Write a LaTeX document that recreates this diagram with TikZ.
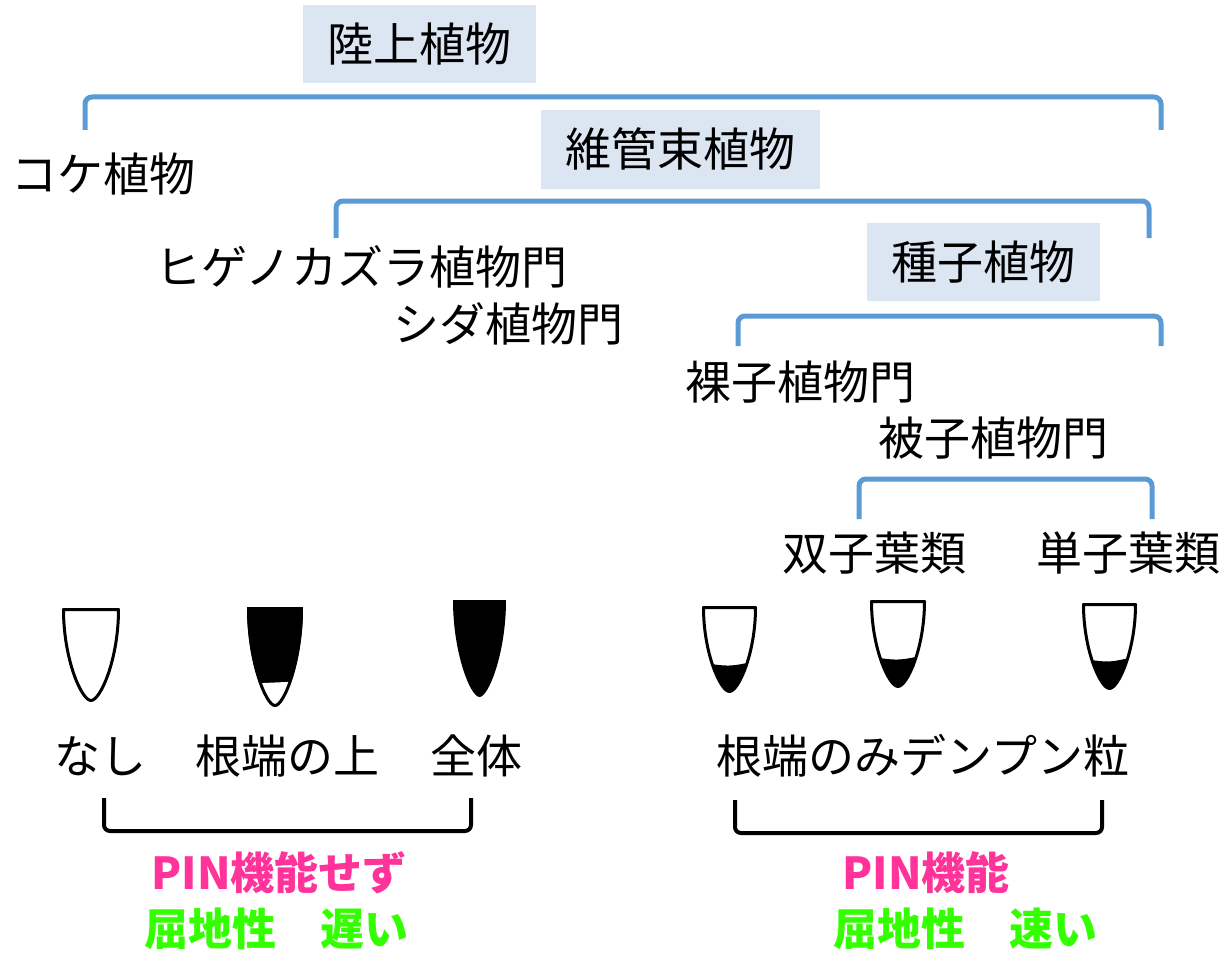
\documentclass[tikz,border=0pt]{standalone}
\usepackage{fontspec}
\setmainfont{Noto Sans CJK JP}
\definecolor{boxblue}{HTML}{DCE6F2}
\definecolor{brblue}{HTML}{5B9BD5}
\definecolor{pinkc}{HTML}{FF3399}
\definecolor{greenc}{HTML}{33FF00}
% outline of a root tip: left x, right x, top y, bottom y
\newcommand\tippath[4]{(#1,#3) -- (#2,#3)
  .. controls (#2,{#3+0.55*(#4-#3)}) and ({(#1+#2)/2+0.17*(#2-#1)},#4) .. ({(#1+#2)/2},#4)
  .. controls ({(#1+#2)/2-0.17*(#2-#1)},#4) and (#1,{#3+0.55*(#4-#3)}) .. cycle}
% root tip with a starch-filled cap below a slightly sagging line
\newcommand\captip[7]{%
  \begin{scope}
    \clip \tippath{#1}{#2}{#3}{#4};
    \fill ({#1-5},#5) .. controls ({(#1+#2)/2},{#6+2}) .. ({#2+5},#7) -- ({#2+5},{#4+5}) -- ({#1-5},{#4+5}) -- cycle;
  \end{scope}
  \draw[tipline] \tippath{#1}{#2}{#3}{#4};}
\begin{document}
\begin{tikzpicture}[x=1pt,y=-1pt,
  lbl/.style={inner sep=0pt, text height=40.5pt, text depth=5.5pt,
    font=\fontsize{46}{50}\selectfont},
  grp/.style={lbl, fill=boxblue, inner xsep=24.5pt, inner ysep=16pt},
  pin/.style={inner sep=0pt, text height=38.7pt, text depth=5.3pt,
    font=\fontsize{44}{48}\selectfont\bfseries, text=pinkc},
  geo/.style={pin, text=greenc},
  bbr/.style={draw=brblue, line width=5pt, rounded corners=7pt},
  kbr/.style={draw=black, line width=4pt, rounded corners=6pt},
  tipline/.style={draw=black, line width=3pt, line join=round}]
\useasboundingbox (0,0) rectangle (1229,955);

% group headings
\node[grp] (land) at (419.5,44) {陸上植物};
\node[grp] (vasc) at (680.5,149.5) {維管束植物};
\node[grp] (seed) at (983.5,262) {種子植物};

% taxa
\node[lbl] (moss) at (103.5,174) {コケ植物};
\node[lbl] (lyco) at (361.5,267) {ヒゲノカズラ植物門};
\node[lbl] (fern) at (508,324) {シダ植物門};
\node[lbl] (gymn) at (800,382) {裸子植物門};
\node[lbl] (angi) at (993,438) {被子植物門};
\node[lbl] (dico) at (874,553) {双子葉類};
\node[lbl] (mono) at (1128,553) {単子葉類};

% blue brackets of the classification
\draw[bbr] (85,130) -- (85,97) -- (1161,97) -- (1161,130);
\draw[bbr] (336,238) -- (336,201) -- (1149,201) -- (1149,238);
\draw[bbr] (738,346) -- (738,316) -- (1161,316) -- (1161,346);
\draw[bbr] (859,519) -- (859,479) -- (1152,479) -- (1152,519);

% root tips without PIN function
\draw[tipline] \tippath{63.5}{118.5}{609.5}{700.5};
\fill \tippath{247}{303}{607}{707};
\begin{scope}
  \clip \tippath{247}{303}{607}{707};
  \fill[white] (240,684) .. controls (275,682) .. (310,681) -- (310,715) -- (240,715) -- cycle;
\end{scope}
\draw[tipline] \tippath{248.5}{301.5}{608.5}{705.5};
\fill \tippath{453}{506}{600}{697};

% root tips with starch only at the tip
\captip{703.5}{755.5}{607.5}{691.5}{662}{665}{660}
\captip{871.5}{924.5}{601.5}{686.5}{656}{659}{654}
\captip{1083.5}{1135.5}{604.5}{688.5}{658}{661}{655}

% tip labels
\node[lbl] (none) at (100,756) {なし};
\node[lbl] (upper) at (287,756) {根端の上};
\node[lbl] (whole) at (476,756) {全体};
\node[lbl] (apex) at (923,756) {根端のみデンプン粒};

% black brackets
\draw[kbr] (104,798) -- (104,831) -- (471,831) -- (471,798);
\draw[kbr] (735,800) -- (735,833) -- (1102,833) -- (1102,800);

% conclusions
\node[pin] (nopin) at (279,873) {PIN機能せず};
\node[geo] (slow) at (276,929) {屈地性　遅い};
\node[pin] (haspin) at (926,873) {PIN機能};
\node[geo] (fast) at (965,929) {屈地性　速い};
\end{tikzpicture}
\end{document}
